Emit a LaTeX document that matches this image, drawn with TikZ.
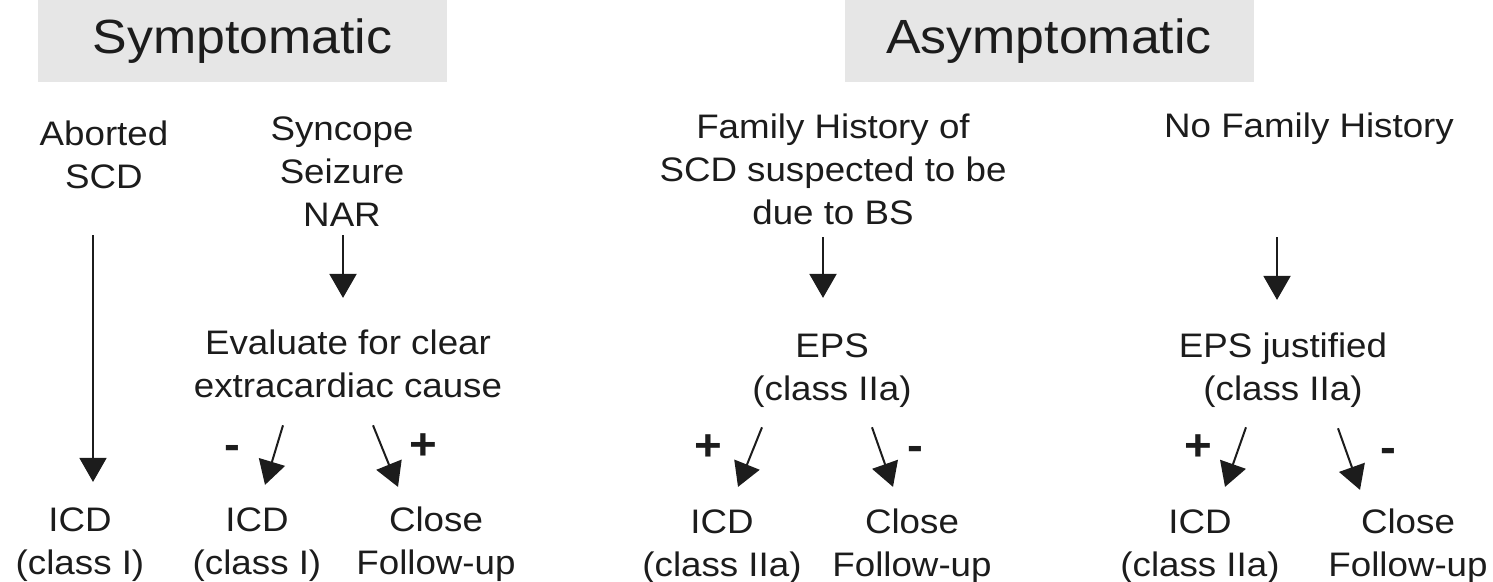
\documentclass[tikz,border=0pt]{standalone}
\usepackage{fontspec}
\setmainfont[FakeStretch=1.08]{Liberation Sans}
\usetikzlibrary{arrows.meta}
\definecolor{boxgray}{HTML}{E6E6E6}
\definecolor{ink}{HTML}{1C1C1C}
\begin{document}
\begin{tikzpicture}[x=1pt,y=-1pt,
  txt/.style={font=\fontsize{34}{43}\selectfont, align=center, inner sep=0pt, anchor=north, text=ink},
  hdr/.style={font=\fontsize{48}{58}\selectfont, fill=boxgray, minimum width=409pt, minimum height=82pt, inner sep=0pt, text=ink},
  sgn/.style={font=\fontsize{44}{50}\selectfont\bfseries, inner sep=0pt, text=ink},
  arr/.style={draw=ink, line width=2pt, -{Triangle[length=24pt,width=27pt]}},
]
\useasboundingbox (0,0) rectangle (1493,581);

% headers
\node[hdr] (symp) at (242.5,41) {Symptomatic};
\node[hdr] (asymp) at (1049,41) {Asymptomatic};

% symptomatic branch
\node[txt] (abort) at (104,114.9) {Aborted\strut\\SCD\strut};
\node[txt] (sync) at (342,109.9) {Syncope\strut\\Seizure\strut\\NAR\strut};
\node[txt] (eval) at (348,323.9) {Evaluate for clear\strut\\extracardiac cause\strut};
\node[txt] (icdA) at (80,500.9) {ICD\strut\\(class I)\strut};
\node[txt] (icdB) at (257,500.9) {ICD\strut\\(class I)\strut};
\node[txt] (closeA) at (436,500.9) {Close\strut\\Follow-up\strut};

% asymptomatic branch
\node[txt] (fam) at (833,107.9) {Family History of\strut\\SCD suspected to be\strut\\due to BS\strut};
\node[txt] (nofam) at (1309,106.9) {No Family History\strut};
\node[txt] (epsA) at (832,326.9) {EPS\strut\\(class IIa)\strut};
\node[txt] (epsB) at (1283,326.9) {EPS justified\strut\\(class IIa)\strut};
\node[txt] (icdC) at (722,502.9) {ICD\strut\\(class IIa)\strut};
\node[txt] (closeB) at (912,502.9) {Close\strut\\Follow-up\strut};
\node[txt] (icdD) at (1200,502.9) {ICD\strut\\(class IIa)\strut};
\node[txt] (closeC) at (1408,502.9) {Close\strut\\Follow-up\strut};

% signs
\node[sgn] (mA) at (232,452) {-};
\node[sgn] (pA) at (423,447) {+};
\node[sgn] (pB) at (708,448) {+};
\node[sgn] (mB) at (915,453) {-};
\node[sgn] (pC) at (1198,448) {+};
\node[sgn] (mC) at (1388,455) {-};

% connectors
\draw[arr, line width=1.6pt] ([xshift=-11pt,yshift=-34pt]abort.south) -- ([xshift=13pt,yshift=19pt]icdA.north);
\draw[arr] ([xshift=1pt,yshift=4pt]sync.south) -- ([xshift=-5pt,yshift=26pt]eval.north);
\draw[arr] ([xshift=-65pt,yshift=-15pt]eval.south) -- ([xshift=8pt,yshift=16pt]icdB.north);
\draw[arr] ([xshift=25pt,yshift=-15pt]eval.south) -- ([xshift=-38pt,yshift=14pt]closeA.north);
\draw[arr] ([xshift=-10pt]fam.south) -- ([xshift=-9pt,yshift=29pt]epsA.north);
\draw[arr] ([xshift=-70pt,yshift=-14pt]epsA.south) -- ([xshift=16pt,yshift=16pt]icdC.north);
\draw[arr] ([xshift=40pt,yshift=-14pt]epsA.south) -- ([xshift=-19pt,yshift=16pt]closeB.north);
\draw[arr] ([xshift=-32pt,yshift=-87pt]nofam.south) -- ([xshift=-6pt,yshift=27pt]epsB.north);
\draw[arr] ([xshift=-37pt,yshift=-14pt]epsB.south) -- ([xshift=25pt,yshift=16pt]icdD.north);
\draw[arr] ([xshift=55pt,yshift=-15pt]epsB.south) -- ([xshift=-48pt,yshift=13pt]closeC.north);
\end{tikzpicture}
\end{document}
